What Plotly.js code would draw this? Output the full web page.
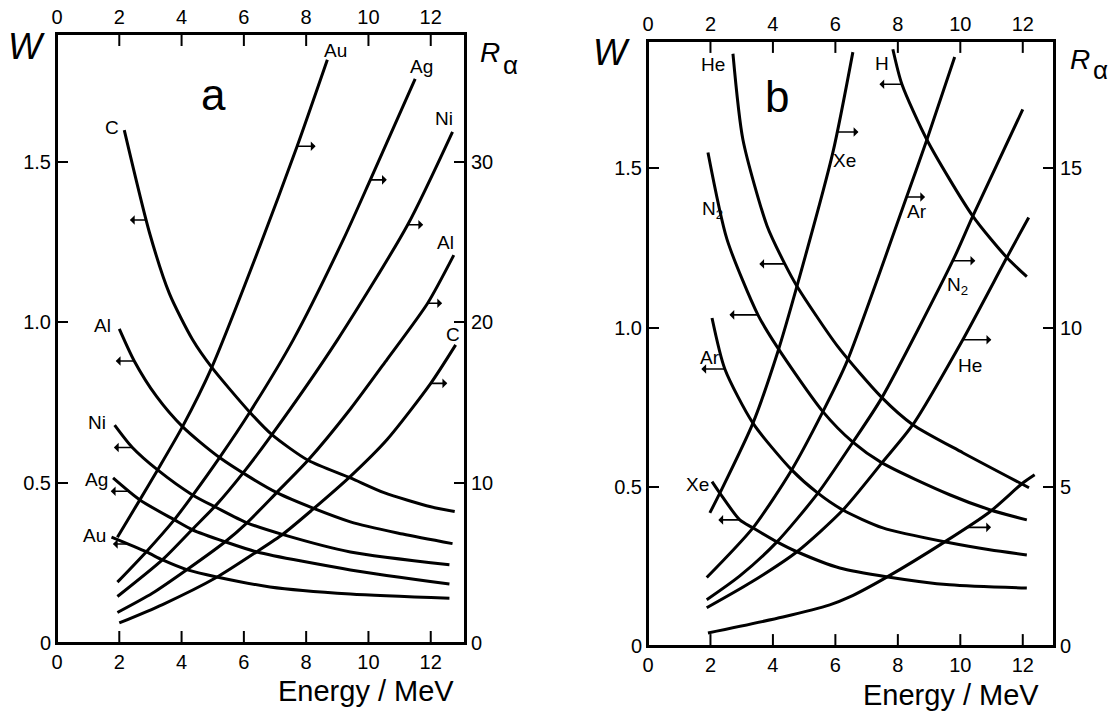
<!DOCTYPE html>
<html><head><meta charset="utf-8">
<script src="https://cdn.plot.ly/plotly-3.0.1.min.js"></script>
<style>html,body{margin:0;padding:0;background:#fff}#chart{width:1119px;height:714px}</style>
</head><body><div id="chart"></div>
<script>
// ---------- tick labels ----------
const energyTicks = [0, 2, 4, 6, 8, 10, 12];
const wTickVals = [0, 0.5, 1.0, 1.5];
const wTickText = ['0', '0.5', '1.0', '1.5'];
const rTicksA = [0, 10, 20, 30];
const rTicksB = [0, 5, 10, 15];

// ---------- panel a : W (left axis), energy in MeV ----------
const aW_C_E  = [2.16, 2.97, 3.61, 4.35, 4.97, 6.19, 6.9, 8.06, 9.42, 10.5, 12.0, 12.77];
const aW_C    = [1.60, 1.28, 1.09, 0.947, 0.86, 0.72, 0.65, 0.57, 0.515, 0.469, 0.425, 0.41];
const aW_Al_E = [2.0, 2.48, 3.19, 4.03, 5.23, 7.06, 9.42, 11.1, 12.7];
const aW_Al   = [0.98, 0.88, 0.77, 0.675, 0.578, 0.469, 0.378, 0.34, 0.31];
const aW_Ni_E = [1.85, 2.42, 3.23, 4.35, 5.13, 6.1, 7.26, 9.42, 12.6];
const aW_Ni   = [0.68, 0.61, 0.54, 0.462, 0.422, 0.375, 0.338, 0.284, 0.244];
const aW_Ag_E = [1.8, 2.65, 3.77, 4.35, 5.39, 6.42, 9.42, 12.6];
const aW_Ag   = [0.515, 0.447, 0.384, 0.353, 0.316, 0.284, 0.228, 0.184];
const aW_Au_E = [1.75, 2.87, 3.39, 4.19, 5.13, 6.84, 9.42, 12.6];
const aW_Au   = [0.33, 0.284, 0.259, 0.228, 0.206, 0.175, 0.153, 0.14];

// ---------- panel a : R_alpha (right axis) ----------
const aR_Au_E = [1.94, 2.65, 3.23, 4.03, 4.97, 6.52, 7.71, 8.68];
const aR_Au   = [6.6, 8.9, 10.8, 13.5, 17.2, 24.8, 31.0, 36.4];
const aR_Ag_E = [1.94, 2.87, 3.77, 4.35, 5.23, 6.19, 7.58, 9.2, 10.06, 11.5];
const aR_Ag   = [3.8, 5.7, 7.7, 9.2, 11.6, 14.4, 18.9, 25.2, 28.9, 35.2];
const aR_Ni_E = [1.94, 3.39, 4.35, 5.13, 5.97, 6.9, 9.0, 11.26, 12.7];
const aR_Ni   = [2.9, 5.2, 7.1, 8.65, 10.6, 13.0, 18.9, 26.1, 31.9];
const aR_Al_E = [1.94, 3.06, 4.19, 5.39, 6.1, 7.06, 8.06, 9.42, 10.6, 11.9, 12.74];
const aR_Al   = [1.9, 3.1, 4.6, 6.3, 7.5, 9.4, 11.4, 14.6, 17.7, 21.2, 24.2];
const aR_C_E  = [2.0, 3.39, 5.13, 6.42, 7.26, 8.19, 9.42, 10.6, 12.0, 12.8];
const aR_C    = [1.25, 2.4, 4.1, 5.7, 6.8, 8.3, 10.4, 12.7, 16.2, 18.6];

// ---------- panel b : W (left axis) ----------
const bW_He_E = [2.72, 3.04, 3.81, 4.38, 4.77, 6.08, 7.49, 8.48, 10.08, 12.2];
const bW_He   = [1.86, 1.59, 1.32, 1.20, 1.13, 0.94, 0.78, 0.695, 0.607, 0.497];
const bW_N2_E = [1.92, 2.53, 3.52, 4.13, 5.6, 6.56, 7.49, 9.66, 10.94, 12.13];
const bW_N2   = [1.55, 1.277, 1.04, 0.94, 0.736, 0.64, 0.575, 0.475, 0.428, 0.396];
const bW_Ar_E = [2.05, 2.46, 3.36, 4.6, 5.44, 6.24, 7.52, 9.66, 10.94, 12.13];
const bW_Ar   = [1.03, 0.87, 0.70, 0.553, 0.48, 0.427, 0.371, 0.324, 0.302, 0.286];
const bW_Xe_E = [2.05, 2.3, 2.94, 3.36, 4.13, 4.77, 6.14, 7.68, 9.66, 12.13];
const bW_Xe   = [0.516, 0.48, 0.396, 0.371, 0.327, 0.296, 0.245, 0.217, 0.192, 0.182];
const bW_H_E  = [7.84, 8.13, 8.93, 10.4, 11.49, 12.13];
const bW_H    = [1.874, 1.764, 1.59, 1.35, 1.22, 1.16];

// ---------- panel b : R_alpha (right axis) ----------
const bR_Xe_E = [1.98, 2.3, 3.36, 4.16, 4.77, 5.92, 6.56];
const bR_Xe   = [4.18, 4.8, 7.0, 9.25, 11.3, 15.5, 18.65];
const bR_Ar_E = [1.88, 3.36, 4.6, 5.6, 6.37, 8.28, 8.93, 9.82];
const bR_Ar   = [2.15, 3.71, 5.53, 7.36, 8.93, 14.1, 15.9, 18.5];
const bR_N2_E = [1.88, 2.94, 4.13, 5.44, 6.56, 7.49, 9.76, 10.4, 12.0];
const bR_N2   = [1.45, 2.2, 3.27, 4.8, 6.4, 7.8, 12.1, 13.5, 16.85];
const bR_He_E = [1.88, 3.3, 4.77, 6.24, 7.49, 8.48, 10.08, 11.49, 12.19];
const bR_He   = [1.2, 2.0, 2.96, 4.27, 5.75, 6.95, 9.62, 12.2, 13.46];
const bR_H_E  = [1.92, 4.32, 5.82, 6.46, 7.66, 9.5, 10.94, 12.0, 12.38];
const bR_H    = [0.41, 0.91, 1.29, 1.54, 2.17, 3.27, 4.21, 5.12, 5.38];

// ---------- curve registry (group -> axes) ----------
// 'topCurve' is the one W curve tied to the (identical) top energy axis so that axis carries data too
const groups = {
  aW: {xa: 'x',  top: 'x3', topCurve: 'C',  ya: 'y',  curves: {C: [aW_C_E, aW_C], Al: [aW_Al_E, aW_Al], Ni: [aW_Ni_E, aW_Ni], Ag: [aW_Ag_E, aW_Ag], Au: [aW_Au_E, aW_Au]}},
  aR: {xa: 'x',  ya: 'y2', curves: {Au: [aR_Au_E, aR_Au], Ag: [aR_Ag_E, aR_Ag], Ni: [aR_Ni_E, aR_Ni], Al: [aR_Al_E, aR_Al], C: [aR_C_E, aR_C]}},
  bW: {xa: 'x2', top: 'x4', topCurve: 'He', ya: 'y3', curves: {He: [bW_He_E, bW_He], N2: [bW_N2_E, bW_N2], Ar: [bW_Ar_E, bW_Ar], Xe: [bW_Xe_E, bW_Xe], H: [bW_H_E, bW_H]}},
  bR: {xa: 'x2', ya: 'y4', curves: {Xe: [bR_Xe_E, bR_Xe], Ar: [bR_Ar_E, bR_Ar], N2: [bR_N2_E, bR_N2], He: [bR_He_E, bR_He], H: [bR_H_E, bR_H]}}
};
const xAxisOf = (G, n) => (G.topCurve === n ? G.top : G.xa);

function interp(xs, ys, e) {
  if (e <= xs[0]) return ys[0];
  for (let i = 1; i < xs.length; i++) {
    if (e <= xs[i]) { const t = (e - xs[i-1]) / (xs[i] - xs[i-1]); return ys[i-1] + t * (ys[i] - ys[i-1]); }
  }
  return ys[ys.length - 1];
}

const traces = [];
for (const g in groups) {
  const G = groups[g];
  for (const n in G.curves) {
    const [xs, ys] = G.curves[n];
    traces.push({x: xs, y: ys, xaxis: xAxisOf(G, n), yaxis: G.ya, mode: 'lines', name: g + ' ' + n,
      line: {color: '#000', width: 3, shape: 'spline', smoothing: 0.7}, showlegend: false, hoverinfo: 'skip'});
  }
}

// ---------- curve labels: [group, curve, energy(null=first/'last'), dx, dy, text] ----------
const labelSpecs = [
  ['aW', 'C', null, -12, 3, 'C'], ['aW', 'Al', null, -17, 3, 'Al'], ['aW', 'Ni', null, -18, 3, 'Ni'],
  ['aW', 'Ag', null, -17, -2, 'Ag'], ['aW', 'Au', null, -17, 2, 'Au'],
  ['aR', 'Au', 'last', 8, 9, 'Au'], ['aR', 'Ag', 'last', 6, 12, 'Ag'], ['aR', 'Ni', 'last', -9, 13, 'Ni'],
  ['aR', 'Al', 'last', -8, 13, 'Al'], ['aR', 'C', 'last', -3, 10, 'C'],
  ['bW', 'He', null, -20, -11, 'He'], ['bW', 'N2', 2.25, -6, -11, 'N<sub>2</sub>'], ['bW', 'Ar', 2.33, -11, -5, 'Ar'],
  ['bW', 'Xe', null, -15, -3, 'Xe'], ['bW', 'H', null, -11, -14, 'H'],
  ['bR', 'Xe', 5.92, 12, -8, 'Xe'], ['bR', 'Ar', 8.15, 14, -3, 'Ar'], ['bR', 'N2', 9.4, 16, -4, 'N<sub>2</sub>'],
  ['bR', 'He', 9.75, 17, -8, 'He']
];
// ---------- axis arrows: [group, curve, energy, direction, length px] ----------
const arrowSpecs = [
  ['aW', 'C', 2.87, -1, 18], ['aW', 'Al', 2.48, -1, 20], ['aW', 'Ni', 2.42, -1, 20], ['aW', 'Ag', 2.32, -1, 20], ['aW', 'Au', 2.26, -1, 16],
  ['aR', 'Au', 7.71, 1, 20], ['aR', 'Ag', 10.06, 1, 18], ['aR', 'Ni', 11.26, 1, 17], ['aR', 'Al', 11.9, 1, 16], ['aR', 'C', 12.0, 1, 18],
  ['bW', 'He', 4.38, -1, 27], ['bW', 'N2', 3.52, -1, 30], ['bW', 'Ar', 2.46, -1, 25], ['bW', 'Xe', 2.94, -1, 23], ['bW', 'H', 8.13, -1, 24],
  ['bR', 'Xe', 6.05, 1, 23], ['bR', 'Ar', 8.28, 1, 20], ['bR', 'N2', 9.76, 1, 24], ['bR', 'He', 10.08, 1, 30], ['bR', 'H', 10.2, 1, 26]
];

const LABEL_FONT = {family: 'Liberation Sans, Arial, sans-serif', size: 19, color: '#000'};
const TICK_FONT = {family: 'Liberation Sans Narrow, Liberation Sans, Arial, sans-serif', size: 20, color: '#000'};

const annotations = [];
for (const [g, n, e, dx, dy, text] of labelSpecs) {
  const G = groups[g]; const [xs, ys] = G.curves[n];
  let ex = e === null ? xs[0] : (e === 'last' ? xs[xs.length - 1] : e);
  annotations.push({xref: G.xa, yref: G.ya, x: ex, y: interp(xs, ys, ex), xshift: dx, yshift: dy, text: text,
    showarrow: false, font: LABEL_FONT, xanchor: 'center', yanchor: 'middle'});
}
for (const [g, n, e, dir, len] of arrowSpecs) {
  const G = groups[g]; const [xs, ys] = G.curves[n];
  annotations.push({xref: G.xa, yref: G.ya, x: e, y: interp(xs, ys, e), ax: dir * len, ay: 0, text: '',
    showarrow: true, arrowside: 'start', arrowhead: 2, arrowsize: 0.9, arrowwidth: 1.6, arrowcolor: '#000', standoff: 0, startstandoff: 0});
}

// panel letters and axis names
const big = (x, y, text, size) => ({xref: 'paper', yref: 'paper', x: x / 1119, y: 1 - y / 714, text: text,
  showarrow: false, xanchor: 'center', yanchor: 'middle', font: {family: 'Liberation Sans, Arial, sans-serif', size: size, color: '#000'}});
annotations.push(big(213, 95, 'a', 44));
annotations.push(big(777, 97, 'b', 44));
annotations.push(big(26, 47, '<i>W</i>', 36));
annotations.push(big(611, 53, '<i>W</i>', 36));
annotations.push(big(490, 53, '<i>R</i>', 28));
annotations.push(big(510, 65, 'α', 26));
annotations.push(big(1080, 59, '<i>R</i>', 28));
annotations.push(big(1100, 70, 'α', 26));
annotations.push(big(366, 691, 'Energy / MeV', 29));
annotations.push(big(951, 695, 'Energy / MeV', 29));

const axBase = {showgrid: false, zeroline: false, showline: true, linecolor: '#000', linewidth: 2,
  ticks: 'inside', ticklen: 11, tickwidth: 2, tickcolor: '#000', tickfont: TICK_FONT, fixedrange: true};
const xA = [57 / 1119, 465 / 1119], yA = [1 - 643 / 714, 1 - 34 / 714];
const xB = [648 / 1119, 1054 / 1119], yB = [1 - 646 / 714, 1 - 41 / 714];

// plot frames and inward energy tick marks (bottom and top), placed at the energy tick values
const frame = (xr, yr) => ({type: 'rect', xref: xr + ' domain', yref: yr + ' domain', x0: 0, x1: 1, y0: 0, y1: 1,
  line: {color: '#000', width: 2}, fillcolor: 'rgba(0,0,0,0)', layer: 'above'});
const shapes = [frame('x', 'y'), frame('x2', 'y3')];
const TICK_FRAC = 12 / 609;
for (const [xr, yr] of [['x', 'y'], ['x2', 'y3']]) {
  for (const v of energyTicks) {
    shapes.push({type: 'line', xref: xr, yref: yr + ' domain', x0: v, x1: v, y0: 0, y1: TICK_FRAC, line: {color: '#000', width: 2}, layer: 'above'});
    shapes.push({type: 'line', xref: xr, yref: yr + ' domain', x0: v, x1: v, y0: 1 - TICK_FRAC, y1: 1, line: {color: '#000', width: 2}, layer: 'above'});
  }
}
const xTicksOff = {ticks: ''};

const layout = {
  width: 1119, height: 714, margin: {l: 0, r: 0, t: 0, b: 0}, paper_bgcolor: '#fff', plot_bgcolor: '#fff',
  showlegend: false,
  xaxis:  Object.assign({}, axBase, xTicksOff, {domain: xA, range: [0, 13.1], anchor: 'y', side: 'bottom', tickvals: energyTicks}),
  xaxis3: Object.assign({}, axBase, xTicksOff, {overlaying: 'x', side: 'top', anchor: 'y', range: [0, 13.1], tickvals: energyTicks}),
  yaxis:  Object.assign({}, axBase, {domain: yA, range: [0, 1.9], anchor: 'x', side: 'left', tickvals: wTickVals, ticktext: wTickText}),
  yaxis2: Object.assign({}, axBase, {overlaying: 'y', side: 'right', anchor: 'x', range: [0, 38], tickvals: rTicksA}),
  xaxis2: Object.assign({}, axBase, xTicksOff, {domain: xB, range: [0, 13], anchor: 'y3', side: 'bottom', tickvals: energyTicks}),
  xaxis4: Object.assign({}, axBase, xTicksOff, {overlaying: 'x2', side: 'top', anchor: 'y3', range: [0, 13], tickvals: energyTicks}),
  yaxis3: Object.assign({}, axBase, {domain: yB, range: [0, 1.9], anchor: 'x2', side: 'left', tickvals: wTickVals, ticktext: wTickText}),
  yaxis4: Object.assign({}, axBase, {overlaying: 'y3', side: 'right', anchor: 'x2', range: [0, 19], tickvals: rTicksB}),
  shapes: shapes,
  annotations: annotations
};

Plotly.newPlot('chart', traces, layout, {staticPlot: true, displayModeBar: false});
</script></body></html>
